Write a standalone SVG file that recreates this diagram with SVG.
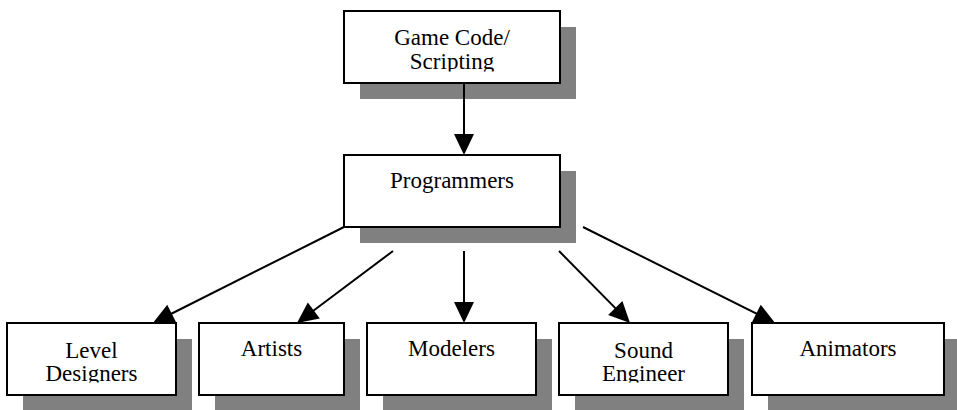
<svg xmlns="http://www.w3.org/2000/svg" width="957" height="410" viewBox="0 0 957 410">
<style>
.shadow{fill:#808080;stroke:none}
.box{fill:#fff;stroke:#000;stroke-width:2}
.lbl{font-family:"Liberation Serif","Times New Roman",serif;font-size:23px;fill:#000;text-anchor:middle}
.conn{stroke:#000;stroke-width:2;fill:none;marker-end:url(#arrow)}
</style>
<defs>
<marker id="arrow" markerUnits="userSpaceOnUse" markerWidth="22" markerHeight="22" refX="11" refY="10" orient="auto" overflow="visible">
<path d="M0,0 L21,10 L0,20 Z" fill="#000"/>
</marker>
<clipPath id="cTop"><rect x="344" y="11" width="216" height="60.5"/></clipPath>
<clipPath id="cLD"><rect x="7" y="323" width="169" height="59.5"/></clipPath>
<clipPath id="cSE"><rect x="559" y="323" width="169" height="59.5"/></clipPath>
</defs>
<rect width="957" height="410" fill="#fff"/>

<g id="node-gamecode">
<rect class="shadow" x="360" y="27" width="216" height="72"/>
<rect class="box" x="344" y="11" width="216" height="72"/>
<g clip-path="url(#cTop)">
<text class="lbl" x="452" y="44.5">Game Code/</text>
<text class="lbl" x="452" y="68.5">Scripting</text>
</g>
</g>

<g id="node-programmers">
<rect class="shadow" x="360" y="171" width="216" height="72"/>
<rect class="box" x="344" y="155" width="216" height="72"/>
<text class="lbl" x="452" y="187.5">Programmers</text>
</g>

<g id="node-level-designers">
<rect class="shadow" x="23" y="339" width="169" height="72"/>
<rect class="box" x="7" y="323" width="169" height="72"/>
<g clip-path="url(#cLD)">
<text class="lbl" x="91.5" y="357.5">Level</text>
<text class="lbl" x="91.5" y="381">Designers</text>
</g>
</g>

<g id="node-artists">
<rect class="shadow" x="215" y="339" width="145" height="72"/>
<rect class="box" x="199" y="323" width="145" height="72"/>
<text class="lbl" x="271.5" y="356">Artists</text>
</g>

<g id="node-modelers">
<rect class="shadow" x="383" y="339" width="169" height="72"/>
<rect class="box" x="367" y="323" width="169" height="72"/>
<text class="lbl" x="451.5" y="356">Modelers</text>
</g>

<g id="node-sound-engineer">
<rect class="shadow" x="575" y="339" width="169" height="72"/>
<rect class="box" x="559" y="323" width="169" height="72"/>
<g clip-path="url(#cSE)">
<text class="lbl" x="643.5" y="357.5">Sound</text>
<text class="lbl" x="643.5" y="381">Engineer</text>
</g>
</g>

<g id="node-animators">
<rect class="shadow" x="768" y="339" width="192" height="72"/>
<rect class="box" x="752" y="323" width="192" height="72"/>
<text class="lbl" x="848" y="356">Animators</text>
</g>

<g id="connectors">
<line class="conn" x1="464" y1="83" x2="464" y2="145"/>
<line class="conn" x1="344" y1="227" x2="161.9" y2="318.5"/>
<line class="conn" x1="393" y1="251" x2="305" y2="317"/>
<line class="conn" x1="464" y1="251" x2="464" y2="313"/>
<line class="conn" x1="559" y1="251" x2="623" y2="315.9"/>
<line class="conn" x1="583" y1="227" x2="766.1" y2="318.5"/>
</g>
</svg>
